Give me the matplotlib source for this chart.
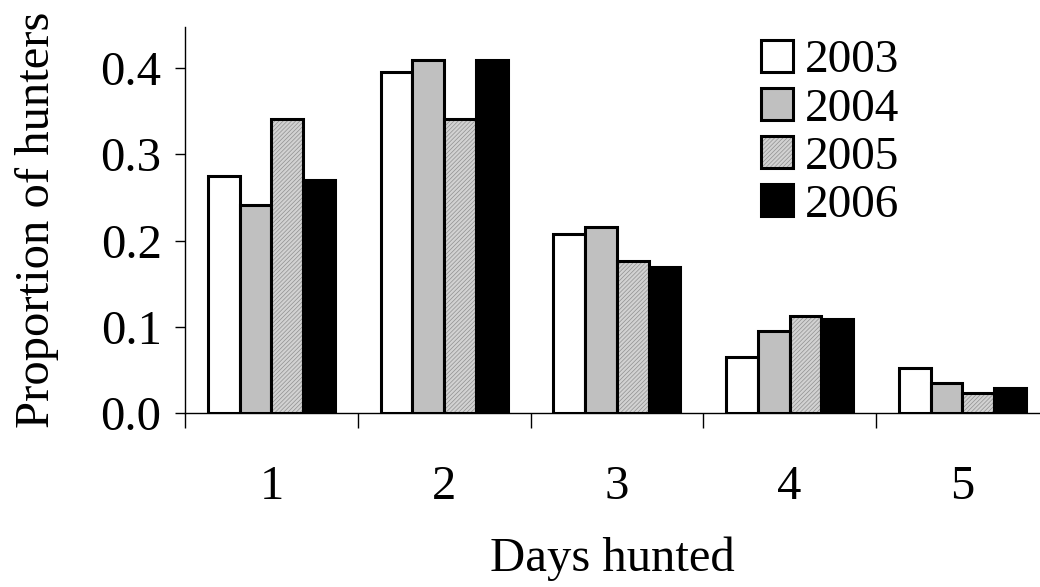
import numpy as np
import matplotlib.pyplot as plt
from matplotlib.patches import Patch

plt.rcParams['font.family'] = ['Liberation Serif', 'DejaVu Serif']
plt.rcParams['hatch.linewidth'] = 0.5

days = ['1', '2', '3', '4', '5']
years = ['2003', '2004', '2005', '2006']
p2003 = [0.275, 0.395, 0.208, 0.065, 0.053]
p2004 = [0.241, 0.409, 0.216, 0.095, 0.035]
p2005 = [0.341, 0.341, 0.176, 0.113, 0.024]
p2006 = [0.270, 0.409, 0.169, 0.109, 0.029]

fig = plt.figure(figsize=(10.4, 5.87), dpi=100)
ax = fig.add_axes([0.178, 0.296, 0.822, 0.658])

x = np.arange(len(days))
w = 0.184
offs = np.array([-1.5, -0.5, 0.5, 1.5]) * w
lw = 2.2
hatch_fc, hatch_ec, hatch = '#d2d2d2', '#909090', '////////'

ax.bar(x + offs[0], p2003, w, color='white', edgecolor='black', linewidth=lw, zorder=2)
ax.bar(x + offs[1], p2004, w, color='#c0c0c0', edgecolor='black', linewidth=lw, zorder=2)
# 2005: fine grey hatching, outline drawn on top
ax.bar(x + offs[2], p2005, w, color=hatch_fc, edgecolor=hatch_ec, hatch=hatch, linewidth=0, zorder=2)
ax.bar(x + offs[2], p2005, w, fill=False, edgecolor='black', linewidth=lw, zorder=3)
ax.bar(x + offs[3], p2006, w, color='black', edgecolor='black', linewidth=lw, zorder=2)

ax.set_xlim(-0.5, 4.45)
ax.set_ylim(0, 0.4475)

for s in ['top', 'right']:
    ax.spines[s].set_visible(False)
ax.spines['left'].set_linewidth(1.0)
ax.spines['bottom'].set_linewidth(1.0)

ax.set_yticks([0.0, 0.1, 0.2, 0.3, 0.4])
ax.set_yticklabels(['0.0', '0.1', '0.2', '0.3', '0.4'])
ax.tick_params(axis='y', direction='out', length=7, width=1, labelsize=35, pad=10)

ax.set_xticks(x)
ax.set_xticklabels(days)
ax.tick_params(axis='x', which='major', length=0, labelsize=35, pad=37)
ax.set_xticks([-0.5, 0.5, 1.5, 2.5, 3.5], minor=True)
ax.tick_params(axis='x', which='minor', direction='out', length=11, width=1)

ax.set_xlabel('Days hunted', fontsize=35, labelpad=20)
ax.set_ylabel('Proportion of hunters', fontsize=35, labelpad=30)

handles = [
    Patch(facecolor='white', edgecolor='black', linewidth=lw),
    Patch(facecolor='#c0c0c0', edgecolor='black', linewidth=lw),
    (Patch(facecolor=hatch_fc, edgecolor=hatch_ec, hatch=hatch, linewidth=0),
     Patch(fill=False, edgecolor='black', linewidth=lw)),
    Patch(facecolor='black', edgecolor='black', linewidth=lw),
]
leg = ax.legend(handles, years, loc='upper left', bbox_to_anchor=(0.641, 1.04), frameon=False,
                fontsize=34, handlelength=0.66, handleheight=0.66, handletextpad=0.25,
                labelspacing=0.12, borderaxespad=0.2)

fig.savefig('out.png', dpi=100)
